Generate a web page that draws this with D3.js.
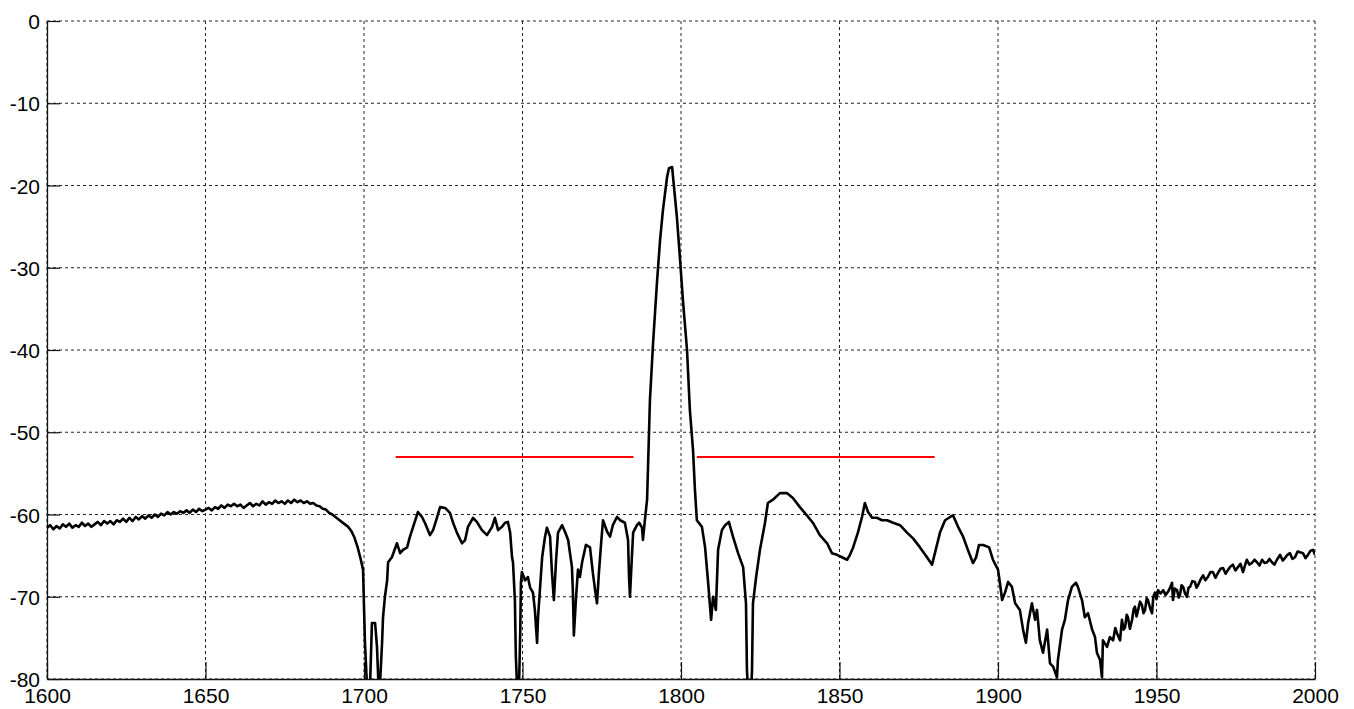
<!DOCTYPE html>
<html>
<head>
<meta charset="utf-8">
<script src="https://cdn.jsdelivr.net/npm/d3@7"></script>
<style>
  body { margin: 0; background: #fff; }
  text { font-family: "Liberation Sans", Arial, sans-serif; }
</style>
</head>
<body>
<svg width="1354" height="709"></svg>
<script>
// tick values
var xTicks = [1600, 1650, 1700, 1750, 1800, 1850, 1900, 1950, 2000];
var yTicks = [0, -10, -20, -30, -40, -50, -60, -70, -80];

// red limit lines: [start MHz, end MHz, level dB]
var limitLines = [[1710, 1785, -53], [1805, 1880, -53]];

var traceLow = [
  [1600,-61.6],[1601,-61.3],[1602,-61.8],[1603,-61.4],[1604,-61.7],[1605,-61.2],[1606,-61.5],[1607,-61.1],
  [1608,-61.6],[1609,-61.3],[1610,-61.5],[1611,-61.0],[1612,-61.4],[1613,-61.1],[1614,-61.5],[1615,-61.2],
  [1616,-60.9],[1617,-61.3],[1618,-60.8],[1619,-61.1],[1620,-60.8],[1621,-61.2],[1622,-60.7],[1623,-60.9],
  [1624,-60.5],[1625,-60.9],[1626,-60.4],[1627,-60.8],[1628,-60.3],[1629,-60.6],[1630,-60.2],[1631,-60.5],
  [1632,-60.1],[1633,-60.4],[1634,-60.0],[1635,-60.3],[1636,-59.9],[1637,-60.1],[1638,-59.7],[1639,-60.0],
  [1640,-59.7],[1641,-59.9],[1642,-59.6],[1643,-59.8],[1644,-59.5],[1645,-59.8],[1646,-59.4],[1647,-59.7],
  [1648,-59.3],[1649,-59.6],[1650,-59.4],[1651,-59.2],[1652,-59.5],[1653,-59.1],[1654,-59.3],[1655,-58.9],
  [1656,-59.2],[1657,-58.8],[1658,-59.0],[1659,-58.7],[1660,-59.0],[1661,-58.8],[1662,-59.2],[1663,-58.9],
  [1664,-58.6],[1665,-59.0],[1666,-58.7],[1667,-58.9],[1668,-58.4],[1669,-58.8],[1670,-58.5],[1671,-58.7],
  [1672,-58.3],[1673,-58.6],[1674,-58.4],[1675,-58.7],[1676,-58.3],[1677,-58.6],[1678,-58.2],[1679,-58.5],
  [1680,-58.3],[1681,-58.6],[1682,-58.4],[1683,-58.7],[1684,-58.6],[1685,-58.9],[1686,-59.0],[1687,-59.3],
  [1688,-59.4],[1689,-59.8],[1690,-60.0],[1691,-60.3],[1692,-60.6],[1693,-60.9],[1694,-61.2],[1695,-61.5],
  [1696,-62.0],[1697,-62.8],[1698,-64.0],[1699,-65.5]
];

var traceBand = [
  [1699.7,-66.7],[1700.3,-75.6],[1700.9,-80.5],[1701.9,-81],[1702.5,-73.2],[1703.5,-73.2],[1704.1,-76.1],
  [1704.6,-81],[1705.0,-81],[1705.7,-75.6],[1706.0,-72.5],[1706.6,-70],[1707.3,-68],[1707.6,-65.8],
  [1708.8,-65.2],[1710.4,-63.5],[1711.4,-64.7],[1712.3,-64.3],[1713.6,-64],[1714.5,-62.7],[1715.5,-61.5],
  [1717.0,-59.7],[1718.3,-60.3],[1719.2,-61],[1720.8,-62.5],[1721.8,-61.9],[1723.0,-60.4],[1724.0,-59.1],
  [1725.6,-59.2],[1727.1,-59.8],[1728.1,-61],[1729.3,-62.2],[1730.9,-63.5],[1731.9,-63.1],[1732.8,-61.5],
  [1734.4,-60.4],[1735.6,-60.9],[1737.2,-61.9],[1738.8,-62.5],[1740.4,-61.5],[1741.3,-60.4],[1742.3,-61.9],
  [1743.5,-61.5],[1744.5,-61],[1745.4,-60.9],[1746.1,-62.2],[1746.7,-65.2],[1747.0,-65.8],[1747.6,-70.4],
  [1747.9,-77.3],[1748.3,-81],[1748.9,-81],[1749.3,-74],[1749.5,-68.3],[1749.8,-67],[1750.8,-68],
  [1751.7,-67.6],[1752.4,-68.9],[1753.3,-69.5],[1753.9,-71.6],[1754.6,-75.6],[1754.9,-72.5],[1756.2,-65.2],
  [1757.1,-62.7],[1757.7,-61.6],[1758.7,-62.7],[1759.3,-67.1],[1759.9,-70.4],[1760.6,-65.5],[1761.2,-62.2],
  [1762.5,-61.3],[1763.4,-62.1],[1764.4,-63.1],[1765.6,-66.4],[1765.9,-69.5],[1766.2,-74.7],[1766.9,-70],
  [1767.5,-66.7],[1768.1,-67.6],[1768.8,-65.8],[1770.0,-63.7],[1771.3,-64],[1772.2,-67.1],[1772.9,-69.2],
  [1773.5,-70.8],[1774.1,-67.1],[1774.8,-63.5],[1775.4,-60.7],[1776.7,-62.1],[1777.6,-62.7],[1778.5,-61.3],
  [1779.8,-60.3],[1780.8,-60.7],[1782.3,-61],[1783.3,-63.1],[1783.6,-67.6],[1783.9,-70],[1784.5,-65.2],
  [1784.9,-62.2],[1786.1,-61.3],[1786.8,-61],[1787.7,-61.6],[1788.0,-63.1],[1788.6,-60.7],[1789.3,-58.2],
  [1790.2,-46.1],[1791.2,-39.1],[1792.4,-31.9],[1793.4,-26.6],[1794.3,-23],[1795.6,-19],[1796.2,-17.9],
  [1797.2,-17.75],[1797.5,-19],[1798.7,-23.8],[1799.7,-29],[1800.6,-33.9],[1801.9,-40],[1802.8,-47.3],
  [1803.8,-52.2],[1804.4,-57],[1805.0,-60.7],[1806.6,-61.5],[1807.6,-64],[1808.5,-68],[1809.5,-72.8],
  [1810.1,-70],[1811.0,-71.6],[1811.7,-64.3],[1812.9,-61.9],[1813.9,-61.3],[1815.1,-60.9],[1816.4,-62.7],
  [1818.0,-64.7],[1819.6,-66.4],[1820.5,-70.8],[1820.8,-78.9],[1821.1,-81],[1822.2,-81],[1822.4,-78.9],
  [1822.7,-70.8],[1823.7,-67.6],[1824.9,-64.3],[1826.5,-61],[1827.4,-58.6],[1829.0,-58.2],[1831.2,-57.4],
  [1833.4,-57.4],[1835.3,-58],[1837.5,-59.1],[1839.7,-60.1],[1841.6,-61],[1843.8,-62.5],[1846.1,-63.5],
  [1847.6,-64.7],[1849.2,-64.9],[1850.8,-65.2],[1852.4,-65.5],[1853.3,-64.9],[1854.3,-64],[1855.8,-62.2],
  [1857.1,-60.3],[1858.0,-58.6],[1859.0,-59.7],[1860.3,-60.4],[1861.8,-60.4],[1863.4,-60.7],[1865.0,-60.7],
  [1866.9,-61],[1869.1,-61.3],[1871.3,-62.2],[1873.2,-62.9],[1875.4,-64],[1877.6,-65.2],[1879.2,-66.1],
  [1880.1,-64.7],[1881.7,-62.2],[1883.3,-60.7],[1884.9,-60.3],[1885.8,-60.1],[1887.4,-61.5],[1889.0,-62.7],
  [1890.5,-64.3],[1892.1,-65.9],[1893.1,-65.2],[1894.0,-63.7],[1895.3,-63.7],[1897.2,-64],[1898.4,-65.5]
];

var traceHigh = [
  [1900.0,-66.7],[1900.6,-68.3],[1901.3,-70.4],[1902.2,-69.5],[1903.2,-68.2],[1904.4,-68.8],[1905.4,-70.8],
  [1906.9,-71.6],[1907.9,-74],[1908.8,-75.6],[1909.5,-73.2],[1910.7,-70.8],[1911.7,-72.8],[1912.3,-71.6],
  [1913.2,-75.3],[1914.2,-76.8],[1915.5,-74],[1916.4,-78.1],[1917.4,-78.5],[1918.6,-79.8],[1918.9,-77.7],
  [1920.2,-74],[1921.1,-72.8],[1922.1,-70.4],[1923.3,-68.8],[1924.6,-68.3],[1925.2,-68.8],[1926.5,-70.4],
  [1927.4,-72.5],[1928.4,-72],[1929.7,-74],[1930.6,-74.9],[1931.2,-76.8],[1932.2,-77.7],[1932.8,-79.8],
  [1933.1,-75.3],[1934.4,-76.1],[1935.3,-74.9],[1936.3,-75.3],[1937.0,-73.8],[1937.5,-74.4],[1938.5,-75.3],
  [1939.1,-72.8],[1939.6,-74.0],[1940.1,-73.7],[1940.6,-72.2],[1941.0,-72.5],[1941.6,-73.9],[1942.3,-72.8],
  [1942.8,-71.5],[1943.2,-71.2],[1943.7,-72.4],[1944.2,-71.6],[1944.8,-70.6],[1945.4,-71.0],[1945.9,-72.0],
  [1946.4,-71.6],[1946.9,-70.2],[1947.3,-70.4],[1948.0,-71.4],[1948.6,-72.0],[1949.0,-70.0],[1949.5,-69.5],
  [1950.0,-70.3],[1950.5,-69.2],[1951.3,-69.6],[1952.1,-69.2],[1952.9,-69.8],[1953.6,-69.4],[1954.3,-68.9],
  [1954.9,-68.3],[1955.2,-70.4],[1955.8,-69.0],[1956.5,-69.2],[1957.0,-70.1],[1957.4,-69.8],[1957.9,-68.6],
  [1958.4,-68.8],[1959.0,-69.6],[1959.6,-70.0],[1960.1,-68.9],[1960.6,-68.8],[1961.3,-68.1],[1962.1,-68.2],
  [1962.6,-68.9],[1963.1,-68.6],[1963.9,-67.9],[1964.7,-67.4],[1965.4,-68.0],[1966.2,-67.6],[1967.0,-67.0],
  [1967.8,-67.0],[1968.6,-67.7],[1969.4,-67.1],[1970.2,-66.6],[1971.0,-66.5],[1971.8,-67.2],[1972.6,-66.7],
  [1973.4,-66.3],[1974.1,-66.1],[1974.9,-66.8],[1975.7,-66.4],[1976.5,-66.0],[1977.3,-67.0],[1977.9,-66.2],
  [1978.5,-65.5],[1979.3,-66.1],[1980.1,-65.9],[1980.9,-65.5],[1981.7,-65.8],[1982.5,-66.2],[1983.3,-65.5],
  [1984.1,-65.9],[1984.9,-65.8],[1985.6,-65.4],[1986.4,-65.8],[1987.2,-66.1],[1988.0,-65.5],[1989.0,-64.9],
  [1989.8,-65.6],[1990.5,-65.3],[1991.3,-64.9],[1992.1,-64.7],[1992.9,-65.4],[1993.7,-65.2],[1994.5,-64.5],
  [1995.3,-64.6],[1996.2,-64.7],[1997.0,-65.3],[1997.8,-64.9],[1998.6,-64.4],[1999.4,-64.3],[2000,-64.9]
];

var trace = traceLow.concat(traceBand, traceHigh);

var margins = {top: 21, left: 47, right: 39, bottom: 30};
var svg = d3.select('svg');
var width = 1354 - margins.left - margins.right;
var height = 709 - margins.top - margins.bottom;

var xScale = d3.scaleLinear().domain([1600, 2000]).range([0, width]);
var yScale = d3.scaleLinear().domain([-80, 0]).range([height, 0]);

var plot = svg.append('g')
  .attr('transform', 'translate(' + margins.left + ',' + margins.top + ')');

svg.append('defs').append('clipPath').attr('id', 'clip')
  .append('rect').attr('width', width).attr('height', height);

// dashed grid
plot.selectAll('line.vgrid').data(xTicks).enter().append('line')
  .attr('class', 'vgrid')
  .attr('x1', function(d){ return xScale(d); })
  .attr('x2', function(d){ return xScale(d); })
  .attr('y1', 0).attr('y2', height)
  .attr('stroke', '#222').attr('stroke-width', 1).attr('stroke-dasharray', '3,3');
plot.selectAll('line.hgrid').data(yTicks).enter().append('line')
  .attr('class', 'hgrid')
  .attr('y1', function(d){ return yScale(d); })
  .attr('y2', function(d){ return yScale(d); })
  .attr('x1', 0).attr('x2', width)
  .attr('stroke', '#222').attr('stroke-width', 1).attr('stroke-dasharray', '3,3');

// axes, ticks point inward; plain hyphen for the minus sign
var plain = function(d){ return String(d); };
var xAxis = d3.axisBottom(xScale).tickValues(xTicks).tickSizeInner(-17).tickSizeOuter(0)
  .tickPadding(8).tickFormat(plain);
var yAxis = d3.axisLeft(yScale).tickValues(yTicks).tickSizeInner(-13).tickSizeOuter(0)
  .tickPadding(7).tickFormat(plain);

var gx = plot.append('g').attr('transform', 'translate(0,' + height + ')').call(xAxis);
var gy = plot.append('g').call(yAxis);
[gx, gy].forEach(function(g){
  g.select('.domain').attr('stroke', '#111').attr('stroke-width', 1.3);
  g.selectAll('.tick line').attr('stroke', '#111').attr('stroke-width', 1.2);
  g.selectAll('.tick text').attr('fill', '#000')
    .style('font-size', '21px').style('font-family', '"Liberation Sans", Arial, sans-serif');
});
gy.selectAll('.tick text').attr('dy', '0.36em');
gx.selectAll('.tick text').attr('dy', '0.74em');

// trace
var line = d3.line()
  .x(function(d){ return xScale(d[0]); })
  .y(function(d){ return yScale(d[1]); });

plot.append('path')
  .datum(trace)
  .attr('clip-path', 'url(#clip)')
  .attr('d', line)
  .attr('fill', 'none')
  .attr('stroke', '#000')
  .attr('stroke-width', 2.6)
  .attr('stroke-linejoin', 'round');

// limit lines
plot.selectAll('line.limit').data(limitLines).enter().append('line')
  .attr('class', 'limit')
  .attr('x1', function(d){ return xScale(d[0]); })
  .attr('x2', function(d){ return xScale(d[1]); })
  .attr('y1', function(d){ return yScale(d[2]); })
  .attr('y2', function(d){ return yScale(d[2]); })
  .attr('stroke', '#ff0000').attr('stroke-width', 2);
</script>
</body>
</html>
